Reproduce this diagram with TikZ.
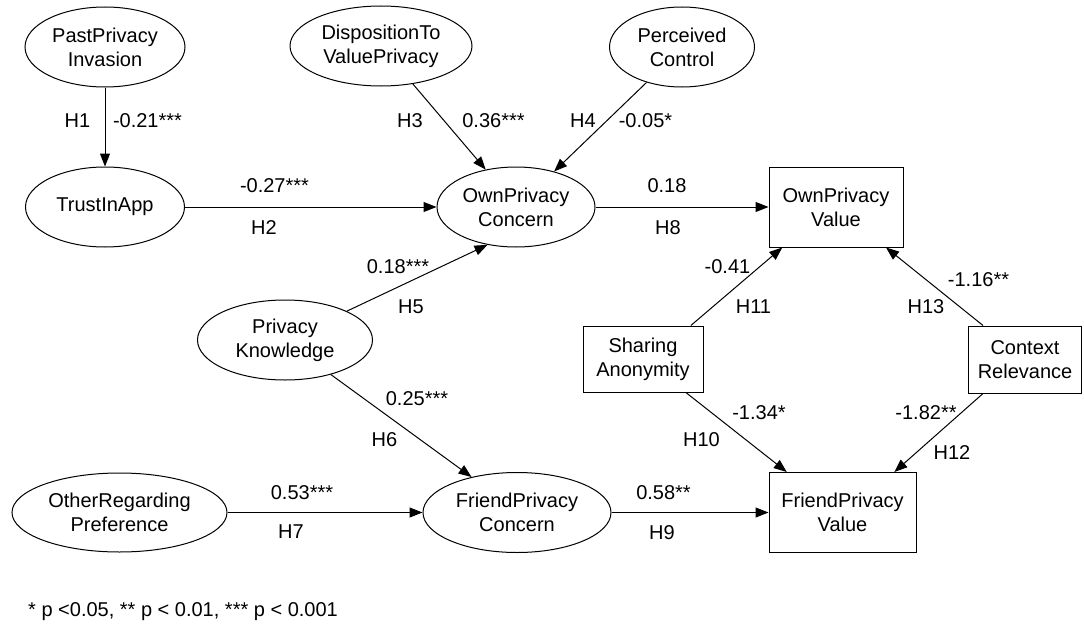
\documentclass[tikz,border=0pt]{standalone}
\usepackage{fontspec}
\setmainfont{Liberation Sans}
\usetikzlibrary{shapes.geometric,arrows.meta}
\begin{document}
\begin{tikzpicture}[x=1pt,y=-1pt,
  font=\fontsize{20}{24}\selectfont,
  lat/.style={ellipse,draw,line width=1pt,inner sep=0pt,align=center,minimum height=80pt},
  obs/.style={rectangle,draw,line width=1pt,inner sep=0pt,align=center},
  lbl/.style={inner sep=0pt},
  conn/.style={-{Triangle[length=13pt,width=10pt]},line width=1pt}]
\useasboundingbox (0,0) rectangle (1084,626);

% nodes
\node[lat,minimum width=160pt] (ppi) at (105,47) {PastPrivacy\\Invasion};
\node[lat,minimum width=182pt] (dvp) at (381,46) {DispositionTo\\ValuePrivacy};
\node[lat,minimum width=145pt] (pc) at (682,47) {Perceived\\Control};
\node[lat,minimum width=159pt] (tia) at (105,207) {TrustInApp};
\node[lat,minimum width=158pt] (opc) at (516,207) {OwnPrivacy\\Concern};
\node[obs,minimum width=134pt,minimum height=80pt] (opv) at (836,207) {OwnPrivacy\\Value};
\node[lat,minimum width=175pt] (pk) at (285,340) {Privacy\\Knowledge};
\node[obs,minimum width=120pt,minimum height=66pt] (sa) at (643,359) {Sharing\\Anonymity};
\node[obs,minimum width=113pt,minimum height=67pt] (cr) at (1025,359.5) {Context\\Relevance};
\node[lat,minimum width=215pt,minimum height=79pt] (orp) at (119.5,512.5) {OtherRegarding\\Preference};
\node[lat,minimum width=188pt] (fpc) at (517,512.5) {FriendPrivacy\\Concern};
\node[obs,minimum width=147pt,minimum height=80pt] (fpv) at (842.5,512.5) {FriendPrivacy\\Value};

% connectors
\draw[conn] (ppi) -- (tia);
\draw[conn] (tia) -- (opc);
\draw[conn] (dvp.310.5) -- (opc.129.4);
\draw[conn] (pc.225) -- (opc.43.5);
\draw[conn] (opc) -- (opv);
\draw[conn] (pk.25.5) -- (opc.233);
\draw[conn] (pk.323.5) -- (fpc.142.4);
\draw[conn] (orp) -- (fpc);
\draw[conn] (fpc) -- (fpv);
\draw[conn] (sa.35.4) -- (opv.217.6);
\draw[conn] (cr.141.4) -- (opv.321.9);
\draw[conn] (sa.322.3) -- (fpv.144.2);
\draw[conn] (cr.219.9) -- (fpv.38.9);

% labels
\node[lbl] (h1) at (77.5,121) {H1};
\node[lbl] (c1) at (147.5,121) {-0.21***};
\node[lbl] (c2) at (274.5,186) {-0.27***};
\node[lbl] (h2) at (264,228) {H2};
\node[lbl] (h3) at (410,121) {H3};
\node[lbl] (c3) at (493.5,121) {0.36***};
\node[lbl] (h4) at (583,121) {H4};
\node[lbl] (c4) at (645.5,121) {-0.05*};
\node[lbl] (c8) at (667,186) {0.18};
\node[lbl] (h8) at (668,228) {H8};
\node[lbl] (c5) at (398,267) {0.18***};
\node[lbl] (h5) at (411,307) {H5};
\node[lbl] (c6) at (417,399) {0.25***};
\node[lbl] (h6) at (384.5,440) {H6};
\node[lbl] (c7) at (302,493) {0.53***};
\node[lbl] (h7) at (291,532) {H7};
\node[lbl] (c9) at (663.5,493) {0.58**};
\node[lbl] (h9) at (662,533) {H9};
\node[lbl] (c11) at (727.5,267) {-0.41};
\node[lbl] (h11) at (753.5,307) {H11};
\node[lbl] (c13) at (978.5,280) {-1.16**};
\node[lbl] (h13) at (926,307) {H13};
\node[lbl] (c10) at (759,413) {-1.34*};
\node[lbl] (h10) at (701.5,440) {H10};
\node[lbl] (c12) at (926,413) {-1.82**};
\node[lbl] (h12) at (952,453) {H12};
\node[lbl,anchor=west] (note) at (28,612) {* p <0.05, ** p < 0.01, *** p < 0.001};
\end{tikzpicture}
\end{document}
